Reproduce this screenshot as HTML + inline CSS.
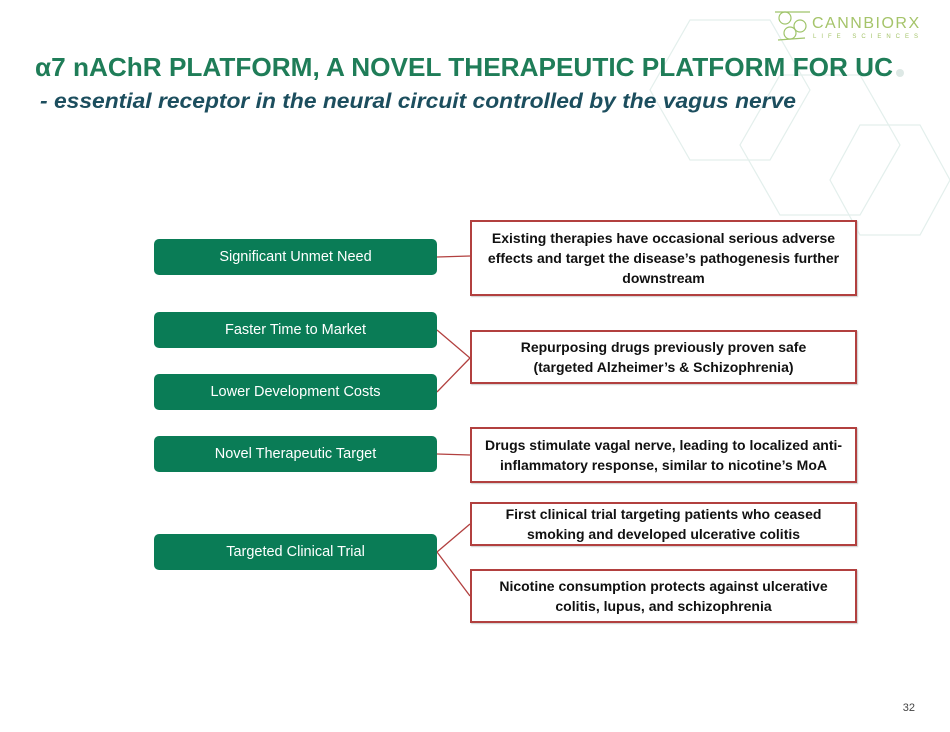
<!DOCTYPE html>
<html><head><meta charset="utf-8"><style>
body{margin:0;width:950px;height:732px;background:#fff;overflow:hidden;position:relative;font-family:"Liberation Sans",Arial,sans-serif}
.g{position:absolute;left:154px;width:283px;height:36px;background:#0a7c56;border-radius:5px;color:#fff;font-size:14.5px;display:flex;align-items:center;justify-content:center}
.r{position:absolute;left:470px;width:383px;border:2px solid #b2403f;color:#111;font-weight:bold;font-size:14px;line-height:20px;text-align:center;display:flex;align-items:center;justify-content:center;background:#fff;box-shadow:1px 1px 1px #ccc}
</style></head><body>
<svg width="950" height="732" style="position:absolute;left:0;top:0">
<g fill="none" stroke="#e3efec" stroke-width="1.2">
<polygon points="690,20 770,20 810,90 770,160 690,160 650,90"/>
<polygon points="780,75 860,75 900,145 860,215 780,215 740,145"/>
<polygon points="860,125 920,125 950,180 920,235 860,235 830,180"/>
</g>
<circle cx="900" cy="73" r="4" fill="#dde8e5"/>
<text x="35" y="76" font-family="Liberation Sans,sans-serif" font-weight="bold" font-size="26" fill="#1f7d58" textLength="858" lengthAdjust="spacingAndGlyphs">α7 nAChR PLATFORM, A NOVEL THERAPEUTIC PLATFORM FOR UC</text>
<text x="40" y="108" font-family="Liberation Sans,sans-serif" font-weight="bold" font-style="italic" font-size="21" fill="#1c4e5e" textLength="756" lengthAdjust="spacingAndGlyphs">- essential receptor in the neural circuit controlled by the vagus nerve</text>
<g stroke="#9fc46a" stroke-width="1.2" fill="none">
<circle cx="785" cy="18" r="6"/><circle cx="800" cy="26" r="6"/><circle cx="790" cy="33" r="6"/><line x1="775" y1="12" x2="810" y2="12"/><line x1="778" y1="40" x2="805" y2="38"/>
</g>
<text x="812" y="28" font-family="Liberation Sans,sans-serif" font-size="16" fill="#a5c46a" letter-spacing="1.5">CANNBIORX</text>
<text x="813" y="38" font-family="Liberation Sans,sans-serif" font-size="6" fill="#a5c46a" letter-spacing="5">LIFE SCIENCES</text>
<g stroke="#b2403f" stroke-width="1.3" fill="none">
<line x1="437" y1="257" x2="470" y2="256"/>
<polyline points="437,330 470,358 437,392"/>
<line x1="437" y1="454" x2="470" y2="455"/>
<polyline points="470,524 437,552 470,596"/>
</g>
<text x="915" y="711" font-family="Liberation Sans,sans-serif" font-size="11" fill="#444" text-anchor="end">32</text>
</svg>
<div class="g" style="top:239px">Significant Unmet Need</div>
<div class="g" style="top:312px">Faster Time to Market</div>
<div class="g" style="top:374px">Lower Development Costs</div>
<div class="g" style="top:436px">Novel Therapeutic Target</div>
<div class="g" style="top:534px">Targeted Clinical Trial</div>
<div class="r" style="top:220px;height:72px">Existing therapies have occasional serious adverse effects and target the disease’s pathogenesis further downstream</div>
<div class="r" style="top:330px;height:50px">Repurposing drugs previously proven safe<br>(targeted Alzheimer’s &amp; Schizophrenia)</div>
<div class="r" style="top:427px;height:52px">Drugs stimulate vagal nerve, leading to localized anti-inflammatory response, similar to nicotine’s MoA</div>
<div class="r" style="top:502px;height:40px">First clinical trial targeting patients who ceased<br>smoking and developed ulcerative colitis</div>
<div class="r" style="top:569px;height:50px">Nicotine consumption protects against ulcerative<br>colitis, lupus, and schizophrenia</div>
</body></html>
